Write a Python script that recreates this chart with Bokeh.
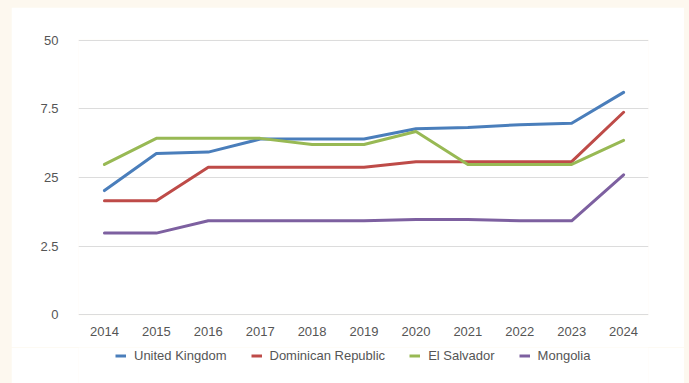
from bokeh.plotting import figure
from bokeh.models import Legend, LegendItem, FixedTicker, Range1d
from bokeh.layouts import column
from bokeh.embed import file_html
from bokeh.resources import INLINE

years = [2014, 2015, 2016, 2017, 2018, 2019, 2020, 2021, 2022, 2023, 2024]
# values in axis-position units (tick index 0..4 labelled 0, 2.5, 25, 7.5, 50)
tick_positions = [0, 1, 2, 3, 4]
tick_labels = ["0", "2.5", "25", "7.5", "50"]

united_kingdom = [1.81, 2.35, 2.37, 2.56, 2.56, 2.56, 2.71, 2.73, 2.77, 2.79, 3.24]
dominican_republic = [1.66, 1.66, 2.15, 2.15, 2.15, 2.15, 2.23, 2.23, 2.23, 2.23, 2.95]
el_salvador = [2.19, 2.57, 2.57, 2.57, 2.48, 2.48, 2.67, 2.19, 2.19, 2.19, 2.54]
mongolia = [1.19, 1.19, 1.37, 1.37, 1.37, 1.37, 1.39, 1.39, 1.37, 1.37, 2.04]

series = [
    ("United Kingdom", united_kingdom, "#4a7ebb"),
    ("Dominican Republic", dominican_republic, "#be4b48"),
    ("El Salvador", el_salvador, "#98b954"),
    ("Mongolia", mongolia, "#7d60a0"),
]

FONT = "Liberation Sans"

p = figure(width=673, height=340, output_backend="svg", toolbar_location=None,
           x_range=Range1d(2013.5, 2024.48), y_range=Range1d(-0.01, 4.01),
           min_border_left=67, min_border_right=36, min_border_top=32, min_border_bottom=32,
           margin=(7, 5, 0, 11))
p.outline_line_color = None
p.background_fill_color = "white"
p.border_fill_color = "white"

for name, vals, color in series:
    p.line(years, vals, line_color=color, line_width=3, line_join="round", line_cap="round")

p.xaxis.ticker = FixedTicker(ticks=years)
p.yaxis.ticker = FixedTicker(ticks=tick_positions)
p.yaxis.major_label_overrides = {pos: lab for pos, lab in zip(tick_positions, tick_labels)}
for ax in (p.xaxis, p.yaxis):
    ax.axis_line_color = None
    ax.major_tick_line_color = None
    ax.minor_tick_line_color = None
    ax.major_label_text_font = FONT
    ax.major_label_text_font_size = "13px"
    ax.major_label_text_color = "#555555"
p.xaxis.major_label_standoff = 5
p.yaxis.major_label_standoff = 14

p.xgrid.grid_line_color = None
p.ygrid.grid_line_color = "#dcdcdc"
p.ygrid.grid_line_width = 1.2

# legend strip below the chart (series drawn out of view; only the legend shows)
lg = figure(width=673, height=36, output_backend="svg", toolbar_location=None,
            x_range=Range1d(2013.5, 2024.48), y_range=Range1d(100, 101),
            min_border=0, margin=(0, 5, 0, 11))
lg.outline_line_color = None
lg.background_fill_color = "white"
lg.border_fill_color = "white"
lg.axis.visible = False
lg.grid.visible = False

items = []
for name, vals, color in series:
    r = lg.line(years, vals, line_color=color, line_width=3)
    items.append(LegendItem(label=name, renderers=[r]))

legend = Legend(items=items, orientation="horizontal", location=(37, 20),
                label_text_font=FONT, label_text_font_size="13px", label_text_color="#555555",
                glyph_width=11, glyph_height=13, label_standoff=8, spacing=24,
                border_line_color=None, background_fill_alpha=0,
                margin=0, padding=0, label_height=13)
lg.add_layout(legend, "center")

layout = column(p, lg, spacing=0, styles={"background-color": "#fdf8ef"})
html = file_html(layout, INLINE)
html = html.replace("</head>", "<style>html,body{background:#fdf8ef !important;margin:0 !important;}</style></head>", 1)
open("out.html", "w").write(html)
